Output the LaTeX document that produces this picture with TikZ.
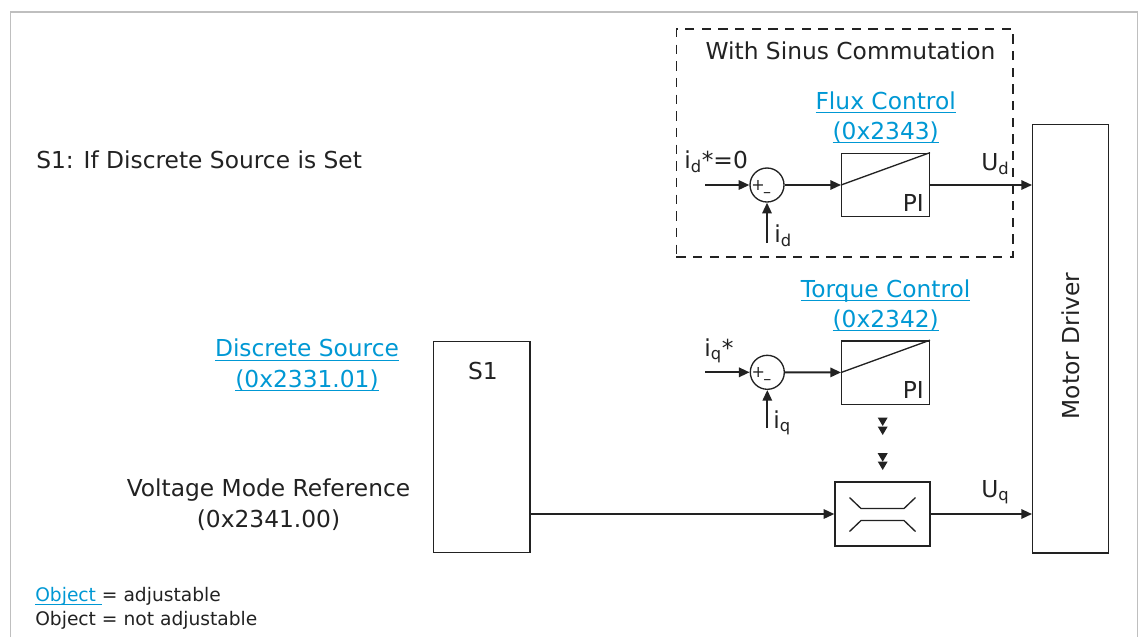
\documentclass[tikz,border=0pt]{standalone}
\usepackage{fontspec}
\setmainfont{DejaVu Sans}
\usetikzlibrary{positioning,arrows.meta}
\definecolor{linkblue}{RGB}{0,152,212}
\definecolor{ink}{RGB}{34,34,34}
\newsavebox{\ulkbox}
\newcommand{\ulk}[1]{\sbox\ulkbox{#1}\rlap{\rule[-3pt]{\wd\ulkbox}{0.8pt}}\usebox\ulkbox}

\begin{document}
\begin{tikzpicture}[
    x=0.75pt, y=-0.75pt, >={Triangle[length=8pt,width=7pt]},
    font=\fontsize{17.5}{23}\selectfont, color=ink,
    blk/.style={draw, line width=1pt, minimum width=65.7pt, minimum height=47.5pt, inner sep=0pt},
    sum/.style={draw, circle, line width=1pt, inner sep=0pt, minimum size=25.5pt},
    pm/.style={inner sep=0pt, font=\fontsize{12}{12}\selectfont},
    sig/.style={->, line width=1.5pt},
    lnk/.style={text=linkblue, inner sep=0pt, anchor=base},
    lbl/.style={inner sep=0pt, anchor=base west}]
  \useasboundingbox (0,0) rectangle (1139,637);
  \draw[black!25, line width=1.2pt] (10.5,637) -- (10.5,12) -- (1137.5,12) -- (1137.5,637);

  \node[inner sep=0pt, anchor=base west] (title) at (36,168) {S1: If Discrete Source is Set};

  % motor driver
  \node[blk, minimum width=57pt, minimum height=321.5pt] (motor) at (1070.7,338.7) {};
  \node[rotate=90, inner sep=0pt] (motorlbl) at (1071,346) {Motor Driver};

  % flux control (sinus commutation only)
  \node[draw, dashed, dash pattern=on 7pt off 5.5pt, line width=1pt, minimum width=252.4pt, minimum height=171pt, inner sep=0pt] (sinusbox) at (844.75,143) {};
  \node[anchor=base, inner sep=0pt] (sinuslbl) at (850.5,59.3) {With Sinus Commutation};
  \node[blk] (fluxpi) at (885.5,185) {};
  \draw[line width=1pt] (fluxpi.west) -- (fluxpi.north east);
  \node[anchor=south east, inner sep=4.5pt] (fluxpilbl) at (fluxpi.south east) {PI};
  \node[lnk] (fluxname) at (885.7,109.3) {\ulk{Flux Control}};
  \node[lnk] (fluxaddr) at ([yshift=-22.6pt]fluxname.base) {\ulk{(0x2343)}};
  \node[sum] (fluxsum) at (767,185) {};
  \node[pm] (fluxplus) at ([shift={(-9,0)}]fluxsum.center) {+};
  \node[pm] (fluxminus) at ([shift={(0,10)}]fluxsum.center) {\textendash};
  \coordinate (fluxin) at (705,185);
  \coordinate (fluxfb) at (767,243);
  \draw[sig] (fluxin) -- (fluxsum);
  \draw[sig] (fluxfb) -- (fluxsum);
  \draw[sig] (fluxsum) -- (fluxpi);
  \draw[sig] (fluxpi.east) -- (fluxpi.east -| motor.west);
  \node[lbl] (idref) at (684,168) {i\textsubscript{d}*=0};
  \node[lbl] (idact) at (774,242) {i\textsubscript{d}};
  \node[lbl] (ud) at (981,170) {U\textsubscript{d}};

  % torque control
  \node[blk] (torqpi) at (885.5,372.5) {};
  \draw[line width=1pt] (torqpi.west) -- (torqpi.north east);
  \node[anchor=south east, inner sep=4.5pt] (torqpilbl) at (torqpi.south east) {PI};
  \node[lnk] (torqname) at (885.7,297) {\ulk{Torque Control}};
  \node[lnk] (torqaddr) at ([yshift=-22.6pt]torqname.base) {\ulk{(0x2342)}};
  \node[sum] (torqsum) at (767.3,372.3) {};
  \node[pm] (torqplus) at ([shift={(-9,0)}]torqsum.center) {+};
  \node[pm] (torqminus) at ([shift={(0,10)}]torqsum.center) {\textendash};
  \coordinate (torqin) at (705,372.3);
  \coordinate (torqfb) at (767.3,428);
  \draw[sig] (torqin) -- (torqsum);
  \draw[sig] (torqfb) -- (torqsum);
  \draw[sig] (torqsum) -- (torqpi);
  \node[lbl] (iqref) at (704,356) {i\textsubscript{q}*};
  \node[lbl] (iqact) at (773,428) {i\textsubscript{q}};

  % limiter
  \node[blk, minimum width=71.25pt, minimum height=47.8pt] (limit) at (882.5,514) {};
  \begin{scope}[shift={(limit.center)}, line width=1pt]
    \draw (-33,-16.5) -- (-21.5,-5.5) -- (21.5,-5.5) -- (33,-16.5);
    \draw (-33,17.5) -- (-21.5,6.5) -- (21.5,6.5) -- (33,17.5);
  \end{scope}
  \foreach \ty in {426,435,461.7,470}
    \fill (882.7,\ty) -- ++(-5,-8.5) -- ++(10,0) -- cycle;
  \node[lbl] (uq) at (981,497) {U\textsubscript{q}};

  % selector S1
  \node[blk, minimum width=72.5pt, minimum height=158.25pt] (s1) at (481.7,447.2) {};
  \node[anchor=base, inner sep=0pt] (s1lbl) at (483,379.3) {S1};
  \node[lnk] (srcname) at (307,356.7) {\ulk{Discrete Source}};
  \node[lnk] (srcaddr) at ([yshift=-23pt]srcname.base) {\ulk{(0x2331.01)}};
  \node[anchor=base, inner sep=0pt] (vmref) at (268.5,496.7) {Voltage Mode Reference};
  \node[anchor=base, inner sep=0pt] (vmaddr) at ([yshift=-23pt]vmref.base) {(0x2341.00)};
  \draw[sig] (s1.east |- limit) -- (limit);
  \draw[sig] (limit) -- (limit -| motor.west);

  % legend
  \node[lbl, font=\fontsize{14}{17}\selectfont] (legadj) at (35,601) {\textcolor{linkblue}{\ulk{Object\ }}= adjustable};
  \node[lbl, font=\fontsize{14}{17}\selectfont] (legfix) at (35,625) {Object = not adjustable};
\end{tikzpicture}
\end{document}
